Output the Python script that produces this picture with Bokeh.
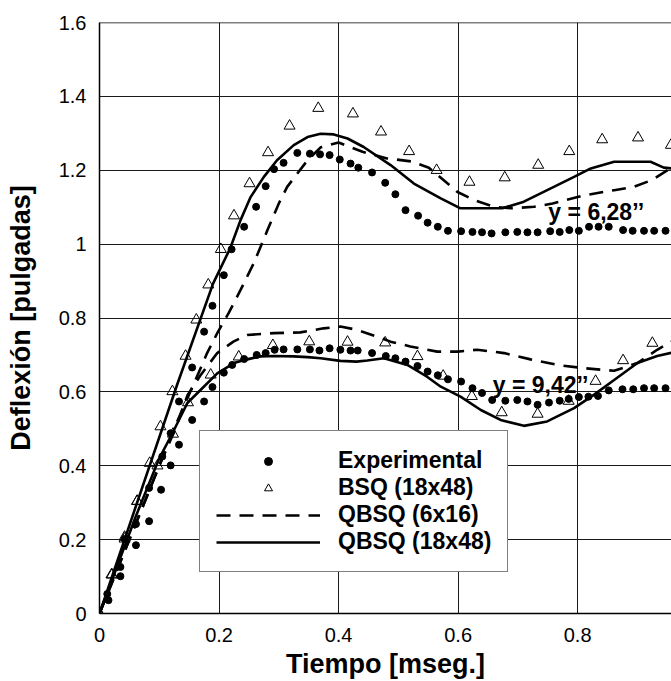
from bokeh.plotting import figure
from bokeh.models import (Legend, LegendItem, Span, Label, Range1d, FixedTicker,
                          CustomJSTickFormatter)
from bokeh.embed import file_html
from bokeh.resources import INLINE

# ---------------- data ----------------
# Experimental, y = 6,28"
exp628_t = [0.013, 0.035, 0.042, 0.061, 0.083, 0.105, 0.119, 0.133, 0.155, 0.175, 0.189, 0.208,
            0.221, 0.242, 0.262, 0.278, 0.292, 0.308, 0.331, 0.352, 0.369, 0.385, 0.402, 0.420,
            0.433, 0.456, 0.478, 0.495, 0.512, 0.533, 0.549, 0.566, 0.583, 0.605, 0.624, 0.640,
            0.656, 0.679, 0.699, 0.716, 0.733, 0.754, 0.770, 0.786, 0.802, 0.819, 0.835, 0.852,
            0.876, 0.892, 0.911, 0.928, 0.947]
exp628_d = [0.053, 0.126, 0.202, 0.242, 0.340, 0.425, 0.488, 0.574, 0.666, 0.763, 0.833, 0.916,
            0.986, 1.047, 1.101, 1.157, 1.203, 1.220, 1.247, 1.245, 1.243, 1.241, 1.229, 1.218,
            1.207, 1.194, 1.166, 1.135, 1.092, 1.077, 1.058, 1.047, 1.036, 1.035, 1.033, 1.032,
            1.029, 1.032, 1.033, 1.032, 1.032, 1.035, 1.033, 1.038, 1.036, 1.047, 1.047, 1.047,
            1.038, 1.036, 1.036, 1.036, 1.036]
# Experimental, y = 9,42"
exp942_t = [0.015, 0.035, 0.061, 0.083, 0.103, 0.119, 0.133, 0.155, 0.175, 0.189, 0.208, 0.222,
            0.242, 0.263, 0.278, 0.293, 0.308, 0.331, 0.352, 0.368, 0.385, 0.403, 0.420, 0.432,
            0.456, 0.479, 0.495, 0.512, 0.532, 0.549, 0.566, 0.583, 0.605, 0.624, 0.640, 0.657,
            0.679, 0.699, 0.716, 0.733, 0.752, 0.770, 0.785, 0.802, 0.818, 0.834, 0.852, 0.875,
            0.893, 0.911, 0.928, 0.947]
exp942_d = [0.036, 0.101, 0.185, 0.250, 0.335, 0.401, 0.457, 0.524, 0.574, 0.613, 0.652, 0.673,
            0.689, 0.700, 0.705, 0.714, 0.715, 0.715, 0.715, 0.712, 0.718, 0.714, 0.712, 0.712,
            0.705, 0.697, 0.691, 0.682, 0.670, 0.655, 0.645, 0.634, 0.628, 0.610, 0.597, 0.578,
            0.576, 0.578, 0.574, 0.565, 0.571, 0.576, 0.581, 0.586, 0.587, 0.589, 0.604, 0.607,
            0.607, 0.610, 0.610, 0.610]
# BSQ (18x48)
bsq628_t = [0.0, 0.020, 0.042, 0.063, 0.084, 0.102, 0.122, 0.144, 0.162, 0.182, 0.203, 0.225,
            0.251, 0.282, 0.318, 0.366, 0.424, 0.471, 0.518, 0.564, 0.619, 0.678, 0.734, 0.786,
            0.841, 0.901, 0.956]
bsq628_d = [0.0, 0.105, 0.207, 0.304, 0.407, 0.506, 0.601, 0.697, 0.795, 0.890, 0.986, 1.077,
            1.164, 1.248, 1.320, 1.368, 1.353, 1.304, 1.251, 1.200, 1.168, 1.180, 1.214, 1.251,
            1.283, 1.288, 1.268]
bsq942_t = [0.0, 0.021, 0.042, 0.063, 0.097, 0.123, 0.148, 0.186, 0.233, 0.290, 0.351, 0.415,
            0.478, 0.532, 0.575, 0.623, 0.673, 0.733, 0.785, 0.830, 0.876, 0.925]
bsq942_d = [0.0, 0.105, 0.202, 0.304, 0.400, 0.486, 0.571, 0.646, 0.695, 0.726, 0.736, 0.735,
            0.733, 0.696, 0.643, 0.588, 0.544, 0.540, 0.575, 0.629, 0.685, 0.732]
# QBSQ (6x16)
q6_628_t = [0.0, 0.05, 0.10, 0.13, 0.16, 0.18, 0.197, 0.216, 0.236, 0.258, 0.281, 0.300, 0.314,
            0.331, 0.348, 0.370, 0.40, 0.44, 0.481, 0.521, 0.551, 0.576, 0.599, 0.627, 0.660,
            0.688, 0.727, 0.758, 0.811, 0.861, 0.894, 0.925, 0.957]
q6_628_d = [0.0, 0.20, 0.40, 0.52, 0.63, 0.705, 0.759, 0.813, 0.876, 0.948, 1.038, 1.110, 1.155,
            1.191, 1.227, 1.262, 1.275, 1.250, 1.232, 1.224, 1.207, 1.173, 1.141, 1.119, 1.101,
            1.097, 1.101, 1.110, 1.132, 1.146, 1.155, 1.174, 1.207]
q6_942_t = [0.0, 0.05, 0.10, 0.127, 0.147, 0.169, 0.197, 0.224, 0.247, 0.292, 0.336, 0.375,
            0.403, 0.431, 0.46, 0.487, 0.52, 0.565, 0.599, 0.632, 0.677, 0.721, 0.766, 0.811,
            0.861, 0.900, 0.933, 0.957]
q6_942_d = [0.0, 0.20, 0.40, 0.50, 0.59, 0.645, 0.705, 0.736, 0.754, 0.759, 0.761, 0.772,
            0.777, 0.768, 0.752, 0.736, 0.723, 0.709, 0.709, 0.714, 0.705, 0.688, 0.673, 0.664,
            0.657, 0.678, 0.714, 0.736]
# QBSQ (18x48)
q18_628_t = [0.0, 0.13, 0.19, 0.219, 0.236, 0.253, 0.275, 0.297, 0.325, 0.348, 0.370, 0.392,
             0.415, 0.442, 0.487, 0.526, 0.571, 0.604, 0.674, 0.710, 0.755, 0.794, 0.822, 0.861,
             0.922, 0.944, 0.957]
q18_628_d = [0.0, 0.62, 0.893, 0.99, 1.065, 1.128, 1.182, 1.227, 1.268, 1.290, 1.299, 1.297,
             1.286, 1.263, 1.214, 1.164, 1.124, 1.097, 1.097, 1.115, 1.151, 1.182, 1.205, 1.223,
             1.223, 1.207, 1.205]
q18_942_t = [0.0, 0.06, 0.10, 0.122, 0.147, 0.169, 0.197, 0.225, 0.247, 0.269, 0.292, 0.325,
             0.348, 0.370, 0.403, 0.430, 0.448, 0.476, 0.515, 0.548, 0.571, 0.604, 0.638, 0.671,
             0.710, 0.749, 0.794, 0.827, 0.861, 0.900, 0.933, 0.957]
q18_942_d = [0.0, 0.26, 0.42, 0.488, 0.57, 0.605, 0.650, 0.678, 0.688, 0.696, 0.697, 0.696,
             0.694, 0.691, 0.684, 0.682, 0.685, 0.691, 0.673, 0.641, 0.614, 0.587, 0.551, 0.524,
             0.508, 0.520, 0.556, 0.592, 0.632, 0.678, 0.697, 0.706]

x_ticks = [0, 0.2, 0.4, 0.6, 0.8]
y_ticks = [0, 0.2, 0.4, 0.6, 0.8, 1.0, 1.2, 1.4, 1.6]
legend_labels = ["Experimental", "BSQ (18x48)", "QBSQ (6x16)", "QBSQ (18x48)"]
notes = ["y = 6,28\u2019\u2019", "y = 9,42\u2019\u2019"]

FONT = "Liberation Sans"

p = figure(width=671, height=681, output_backend="svg", toolbar_location=None,
           x_range=Range1d(0, 0.957), y_range=Range1d(0, 1.6),
           min_border_left=99, min_border_right=0, min_border_top=22, min_border_bottom=67,
           background_fill_color="white", border_fill_color="white")
p.outline_line_color = None

for ax in (p.xaxis[0], p.yaxis[0]):
    ax.major_tick_line_color = None
    ax.minor_tick_line_color = None
    ax.axis_line_color = "black"
    ax.axis_line_width = 1.5
    ax.major_label_text_font = FONT
    ax.major_label_text_font_size = "20px"
    ax.major_label_text_color = "black"
    ax.axis_label_text_font = FONT
    ax.axis_label_text_font_style = "bold"
    ax.axis_label_text_font_size = "27px"
    ax.axis_label_text_color = "black"

p.xaxis.ticker = FixedTicker(ticks=x_ticks)
p.yaxis.ticker = FixedTicker(ticks=y_ticks)
fmt = CustomJSTickFormatter(code="return tick.toFixed(1).replace(/\\.0$/, '');")
p.xaxis.formatter = fmt
p.yaxis.formatter = fmt
p.xaxis.major_label_standoff = 8
p.yaxis.major_label_standoff = 7
p.xaxis.axis_label = "Tiempo [mseg.]"
p.yaxis.axis_label = "Deflexi\u00f3n [pulgadas]"
p.xaxis.axis_label_standoff = 4
p.yaxis.axis_label_standoff = 20

p.grid.grid_line_color = "#1a1a1a"
p.grid.grid_line_width = 1
p.add_layout(Span(location=1.6, dimension="width", line_color="black", line_width=1.5))

LW = 2.6
DASH = "14 9"
r_q6a = p.line(q6_628_t, q6_628_d, line_color="black", line_width=LW, line_dash=DASH)
r_q6b = p.line(q6_942_t, q6_942_d, line_color="black", line_width=LW, line_dash=DASH)
r_q18a = p.line(q18_628_t, q18_628_d, line_color="black", line_width=LW)
r_q18b = p.line(q18_942_t, q18_942_d, line_color="black", line_width=LW)
r_bsqa = p.scatter(bsq628_t, bsq628_d, marker="triangle", size=11, fill_color=None,
                   line_color="black", line_width=1)
r_bsqb = p.scatter(bsq942_t, bsq942_d, marker="triangle", size=11, fill_color=None,
                   line_color="black", line_width=1)
r_expa = p.scatter(exp628_t, exp628_d, marker="circle", size=7, fill_color="black",
                   line_color="black")
r_expb = p.scatter(exp942_t, exp942_d, marker="circle", size=7, fill_color="black",
                   line_color="black")

for txt, xx, yy in [(notes[0], 0.751, 1.086), (notes[1], 0.658, 0.619)]:
    p.add_layout(Label(x=xx, y=yy, text=txt, text_font=FONT, text_font_style="bold",
                       text_font_size="23px", text_color="black", text_baseline="alphabetic"))

legend = Legend(items=[LegendItem(label=legend_labels[0], renderers=[r_expa]),
                       LegendItem(label=legend_labels[1], renderers=[r_bsqa]),
                       LegendItem(label=legend_labels[2], renderers=[r_q6a]),
                       LegendItem(label=legend_labels[3], renderers=[r_q18a])],
                location=(100, 41), margin=0, padding=16, spacing=0,
                glyph_width=104, glyph_height=20, label_standoff=18,
                label_text_font=FONT, label_text_font_style="bold",
                label_text_font_size="23px", label_text_color="black",
                border_line_color="black", border_line_width=1,
                background_fill_color="white", background_fill_alpha=1)
p.add_layout(legend)

open("out.html", "w").write(file_html(p, INLINE))
